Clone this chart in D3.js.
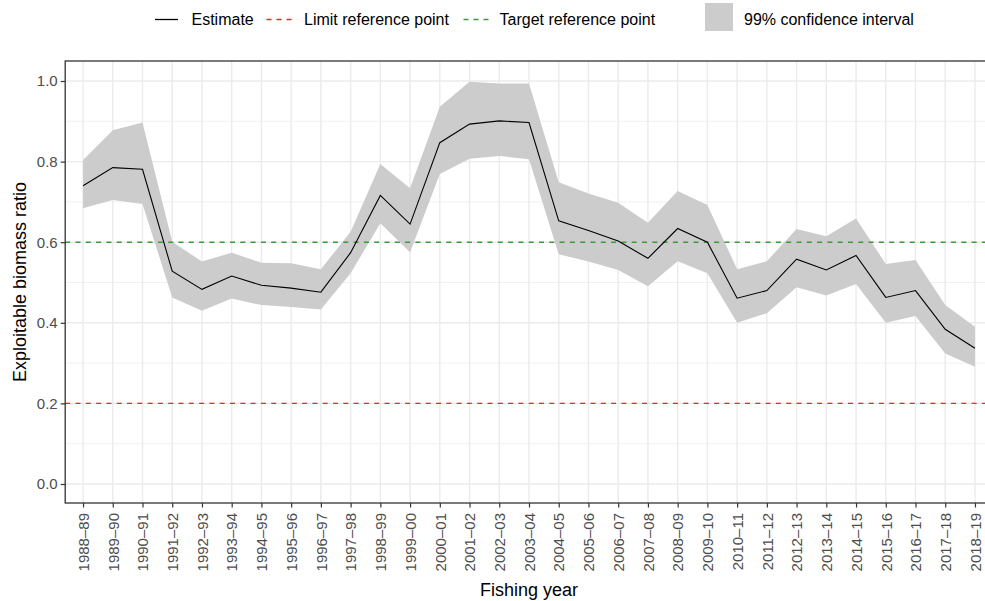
<!DOCTYPE html>
<html>
<head>
<meta charset="utf-8">
<script src="https://cdn.jsdelivr.net/npm/d3@7"></script>
<style>
  body { margin: 0; background: #fff; }
  svg { font-family: "Liberation Sans", Arial, sans-serif; }
</style>
</head>
<body>
<div id="chart"></div>
<script>
// fishing years (x categories)
var years = ["1988–89","1989–90","1990–91","1991–92","1992–93","1993–94","1994–95","1995–96",
  "1996–97","1997–98","1998–99","1999–00","2000–01","2001–02","2002–03","2003–04","2004–05",
  "2005–06","2006–07","2007–08","2008–09","2009–10","2010–11","2011–12","2012–13","2013–14",
  "2014–15","2015–16","2016–17","2017–18","2018–19"];
var estimate = [0.740,0.785,0.781,0.528,0.483,0.516,0.493,0.486,0.476,0.574,0.716,0.645,0.847,0.893,
  0.901,0.897,0.653,0.629,0.603,0.560,0.634,0.600,0.461,0.480,0.558,0.531,0.567,0.463,0.480,0.384,0.337];
var upper = [0.804,0.878,0.897,0.601,0.552,0.574,0.549,0.548,0.533,0.626,0.794,0.734,0.936,0.998,
  0.994,0.994,0.749,0.721,0.698,0.648,0.727,0.692,0.533,0.553,0.633,0.615,0.659,0.546,0.556,0.444,0.390];
var lower = [0.684,0.705,0.695,0.463,0.430,0.460,0.444,0.439,0.433,0.523,0.647,0.575,0.769,0.807,
  0.814,0.806,0.570,0.552,0.531,0.491,0.553,0.523,0.400,0.424,0.488,0.468,0.496,0.400,0.417,0.324,0.291];
var limitRef = 0.2;
var targetRef = 0.6;
var yTicks = [0, 0.2, 0.4, 0.6, 0.8, 1.0];
var yMinor = [0.1, 0.3, 0.5, 0.7, 0.9];

var width = 985, height = 601;
var panel = { left: 65.2, right: 992.8, top: 61, bottom: 503 };
var red = "#ff1f1f", green = "#3c9a3c";

var svg = d3.select("#chart").append("svg")
    .attr("width", width)
    .attr("height", height);

var x = d3.scalePoint()
    .domain(years)
    .range([panel.left, panel.right])
    .padding(0.6);
var y = d3.scaleLinear()
    .domain([0, 1])
    .range([484, 81]);

var data = years.map((d, i) => ({ year: d, est: estimate[i], lo: lower[i], hi: upper[i] }));

// grid
var grid = svg.append("g");
grid.selectAll(".minor").data(yMinor).enter().append("line")
    .attr("x1", panel.left).attr("x2", panel.right)
    .attr("y1", d => y(d)).attr("y2", d => y(d))
    .style("stroke", "#ebebeb").style("stroke-width", 0.7);
grid.selectAll(".major").data(yTicks).enter().append("line")
    .attr("x1", panel.left).attr("x2", panel.right)
    .attr("y1", d => y(d)).attr("y2", d => y(d))
    .style("stroke", "#ebebeb").style("stroke-width", 1.4);
grid.selectAll(".vmajor").data(years).enter().append("line")
    .attr("x1", d => x(d)).attr("x2", d => x(d))
    .attr("y1", panel.top).attr("y2", panel.bottom)
    .style("stroke", "#ebebeb").style("stroke-width", 1.4);

// confidence ribbon
var area = d3.area()
    .x(d => x(d.year))
    .y0(d => y(d.lo))
    .y1(d => y(d.hi));
svg.append("path")
    .datum(data)
    .attr("d", area)
    .style("fill", "#cccccc");

// reference lines
svg.append("line")
    .attr("x1", panel.left).attr("x2", panel.right)
    .attr("y1", y(limitRef)).attr("y2", y(limitRef))
    .style("stroke", red).style("stroke-width", 1.4)
    .style("stroke-dasharray", "5,5.3");
svg.append("line")
    .attr("x1", panel.left).attr("x2", panel.right)
    .attr("y1", y(targetRef)).attr("y2", y(targetRef))
    .style("stroke", green).style("stroke-width", 1.4)
    .style("stroke-dasharray", "5,5.3");

// estimate line
var line = d3.line()
    .x(d => x(d.year))
    .y(d => y(d.est));
svg.append("path")
    .datum(data)
    .attr("d", line)
    .style("fill", "none")
    .style("stroke", "#000")
    .style("stroke-width", 1.1);

// panel border
svg.append("rect")
    .attr("x", panel.left).attr("y", panel.top)
    .attr("width", panel.right - panel.left).attr("height", panel.bottom - panel.top)
    .style("fill", "none").style("stroke", "#333333").style("stroke-width", 1.3);

// y axis
var yAxis = g => g
    .attr("transform", `translate(${panel.left}, 0)`)
    .call(d3.axisLeft(y).tickValues(yTicks).tickFormat(d3.format(".1f")).tickSize(4.5).tickPadding(3))
    .call(g => g.select(".domain").remove())
    .call(g => g.selectAll("line").style("stroke", "#333333").style("stroke-width", 1.2))
    .call(g => g.selectAll("text").style("fill", "#4d4d4d").style("font-size", "15px")
        .style("font-family", "'Liberation Sans', Arial, sans-serif"));
svg.append("g").call(yAxis);

// x axis
var xAxis = g => g
    .attr("transform", `translate(0, ${panel.bottom})`)
    .call(d3.axisBottom(x).tickSize(4.5).tickSizeOuter(0))
    .call(g => g.select(".domain").remove())
    .call(g => g.selectAll("line").style("stroke", "#333333").style("stroke-width", 1.2))
    .selectAll("text")
    .style("fill", "#4d4d4d")
    .style("font-size", "15px")
    .style("font-family", "'Liberation Sans', Arial, sans-serif")
    .style("text-anchor", "end")
    .attr("x", 0)
    .attr("y", 0)
    .attr("dy", "0.35em")
    .attr("transform", "translate(0, 10) rotate(-90)");
svg.append("g").call(xAxis);

// axis titles
svg.append("text")
    .attr("x", (panel.left + panel.right) / 2)
    .attr("y", 596)
    .style("text-anchor", "middle")
    .style("font-size", "18px")
    .style("fill", "#000")
    .text("Fishing year");
svg.append("text")
    .attr("transform", `translate(26, ${(panel.top + panel.bottom) / 2}) rotate(-90)`)
    .style("text-anchor", "middle")
    .style("font-size", "18px")
    .style("fill", "#000")
    .text("Exploitable biomass ratio");

// legend
var legend = svg.append("g").style("font-size", "16px");
legend.append("line")
    .attr("x1", 155).attr("x2", 178).attr("y1", 19.5).attr("y2", 19.5)
    .style("stroke", "#000").style("stroke-width", 1.3);
legend.append("text").attr("x", 191.5).attr("y", 25).text("Estimate");
legend.append("line")
    .attr("x1", 266.5).attr("x2", 292).attr("y1", 19.5).attr("y2", 19.5)
    .style("stroke", red).style("stroke-width", 1.4).style("stroke-dasharray", "5,5");
legend.append("text").attr("x", 304).attr("y", 25).text("Limit reference point");
legend.append("line")
    .attr("x1", 463.5).attr("x2", 489).attr("y1", 19.5).attr("y2", 19.5)
    .style("stroke", green).style("stroke-width", 1.4).style("stroke-dasharray", "5,5");
legend.append("text").attr("x", 499.5).attr("y", 25).text("Target reference point");
legend.append("rect")
    .attr("x", 705).attr("y", 3).attr("width", 28).attr("height", 28)
    .style("fill", "#cccccc");
legend.append("text").attr("x", 744).attr("y", 25).text("99% confidence interval");
</script>
</body>
</html>
